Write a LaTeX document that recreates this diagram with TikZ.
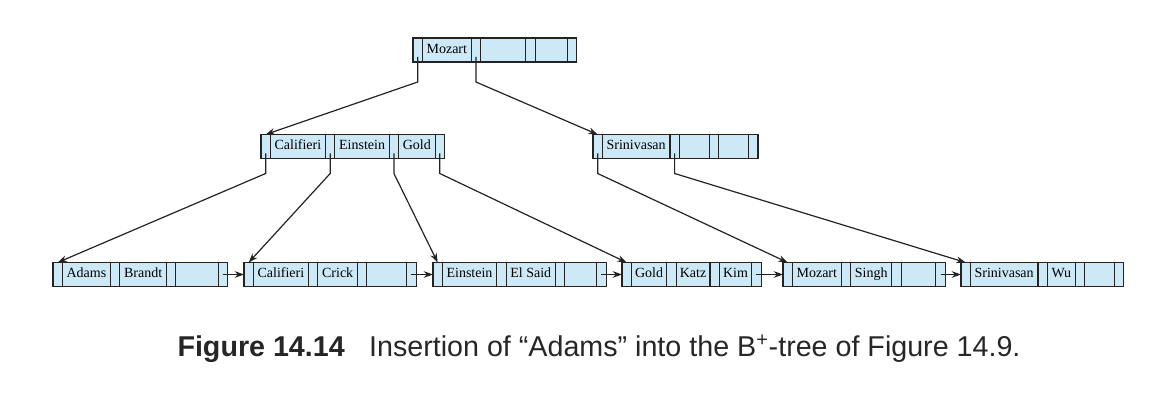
\documentclass[tikz,border=0pt]{standalone}
\usepackage{fontspec}
\setmainfont{Liberation Serif}
\newfontfamily\capfont{Liberation Sans}
\usepackage{tikz}
\usetikzlibrary{positioning,arrows.meta}
\definecolor{cellblue}{RGB}{205,233,248}
\definecolor{edgegray}{RGB}{35,35,35}

\begin{document}
\begin{tikzpicture}[x=0.75pt, y=0.75pt, font=\fontsize{10.5}{12.5}\selectfont,
  >={Stealth[length=7pt,width=5pt]},
  cell/.style={draw=edgegray, fill=cellblue, line width=0.8pt, outer sep=0pt,
    minimum height=18pt, inner ysep=0pt, text height=7.6pt, text depth=2.4pt},
  ptr/.style={cell, minimum width=7pt, inner xsep=0pt},
  key/.style={cell, inner xsep=3.2pt},
  blank/.style={cell, minimum width=#1, inner xsep=0pt},
  link/.style={draw=edgegray, line width=0.9pt, ->}]
\useasboundingbox (0,0) rectangle (1158,400);
% root
\node[ptr, anchor=west] (m0) at (413,350) {};
\node[key, right=0pt of m0] (m1) {Mozart};
\node[ptr, right=0pt of m1] (m2) {};
\node[blank=34pt, right=0pt of m2] (m3) {};
\node[ptr, right=0pt of m3] (m4) {};
\node[blank=24pt, right=0pt of m4] (m5) {};
\node[ptr, right=0pt of m5] (m6) {};
% inner nodes
\node[ptr, anchor=west] (p0) at (261,253.5) {};
\node[key, right=0pt of p0] (p1) {Califieri};
\node[ptr, right=0pt of p1] (p2) {};
\node[key, right=0pt of p2] (p3) {Einstein};
\node[ptr, right=0pt of p3] (p4) {};
\node[key, right=0pt of p4] (p5) {Gold};
\node[ptr, right=0pt of p5] (p6) {};
\node[ptr, anchor=west] (q0) at (593,253.5) {};
\node[key, right=0pt of q0] (q1) {Srinivasan};
\node[ptr, right=0pt of q1] (q2) {};
\node[blank=22.5pt, right=0pt of q2] (q3) {};
\node[ptr, right=0pt of q3] (q4) {};
\node[blank=22.5pt, right=0pt of q4] (q5) {};
\node[ptr, right=0pt of q5] (q6) {};
% leaves
\node[ptr, anchor=west] (a0) at (53,125.5) {};
\node[key, right=0pt of a0] (a1) {Adams};
\node[ptr, right=0pt of a1] (a2) {};
\node[key, right=0pt of a2] (a3) {Brandt};
\node[ptr, right=0pt of a3] (a4) {};
\node[blank=32pt, right=0pt of a4] (a5) {};
\node[ptr, right=0pt of a5] (a6) {};
\node[ptr, anchor=west] (b0) at (244,125.5) {};
\node[key, right=0pt of b0] (b1) {Califieri};
\node[ptr, right=0pt of b1] (b2) {};
\node[key, right=0pt of b2] (b3) {Crick};
\node[ptr, right=0pt of b3] (b4) {};
\node[blank=30pt, right=0pt of b4] (b5) {};
\node[ptr, right=0pt of b5] (b6) {};
\node[ptr, anchor=west] (c0) at (433,125.5) {};
\node[key, right=0pt of c0] (c1) {Einstein};
\node[ptr, right=0pt of c1] (c2) {};
\node[key, right=0pt of c2] (c3) {El Said};
\node[ptr, right=0pt of c3] (c4) {};
\node[blank=24pt, right=0pt of c4] (c5) {};
\node[ptr, right=0pt of c5] (c6) {};
\node[ptr, anchor=west] (d0) at (622,125.5) {};
\node[key, inner xsep=2.8pt, right=0pt of d0] (d1) {Gold};
\node[ptr, right=0pt of d1] (d2) {};
\node[key, inner xsep=2.8pt, right=0pt of d2] (d3) {Katz};
\node[ptr, right=0pt of d3] (d4) {};
\node[key, inner xsep=2.8pt, right=0pt of d4] (d5) {Kim};
\node[ptr, right=0pt of d5] (d6) {};
\node[ptr, anchor=west] (e0) at (783,125.5) {};
\node[key, right=0pt of e0] (e1) {Mozart};
\node[ptr, right=0pt of e1] (e2) {};
\node[key, right=0pt of e2] (e3) {Singh};
\node[ptr, right=0pt of e3] (e4) {};
\node[blank=26pt, right=0pt of e4] (e5) {};
\node[ptr, right=0pt of e5] (e6) {};
\node[ptr, anchor=west] (f0) at (961,125.5) {};
\node[key, right=0pt of f0] (f1) {Srinivasan};
\node[ptr, right=0pt of f1] (f2) {};
\node[key, right=0pt of f2] (f3) {Wu};
\node[ptr, right=0pt of f3] (f4) {};
\node[blank=22pt, right=0pt of f4] (f5) {};
\node[ptr, right=0pt of f5] (f6) {};
% pointers down the tree
\draw[link] ([yshift=3.75pt]m0.south) -- ++(0,-25) -- (p0.north);
\draw[link] ([yshift=3.75pt]m2.south) -- ++(0,-25) -- (q0.north);
\draw[link] ([yshift=3.75pt]p0.south) -- ++(0,-20) -- (a0.north);
\draw[link] ([yshift=3.75pt]p2.south) -- ++(0,-20) -- (b0.north);
\draw[link] ([yshift=3.75pt]p4.south) -- ++(0,-20) -- (c0.north);
\draw[link] ([yshift=3.75pt]p6.south) -- ++(0,-20) -- (d0.north);
\draw[link] ([yshift=3.75pt]q0.south) -- ++(0,-20) -- (e0.north);
\draw[link] ([yshift=3.75pt]q2.south) -- ++(0,-20) -- (f0.north);
% leaf chain
\draw[link] (a6.center) -- (b0.west);
\draw[link] (b6.center) -- (c0.west);
\draw[link] (c6.center) -- (d0.west);
\draw[link] (d6.center) -- (e0.west);
\draw[link] (e6.center) -- (f0.west);
% caption
\node[font=\capfont\fontsize{21.5}{24}\selectfont, text=black!85] (cap) at (599,51)
  {\textbf{Figure 14.14}\hspace{0.85em}Insertion of “Adams” into the B\textsuperscript{+}-tree of Figure 14.9.};
\end{tikzpicture}
\end{document}
